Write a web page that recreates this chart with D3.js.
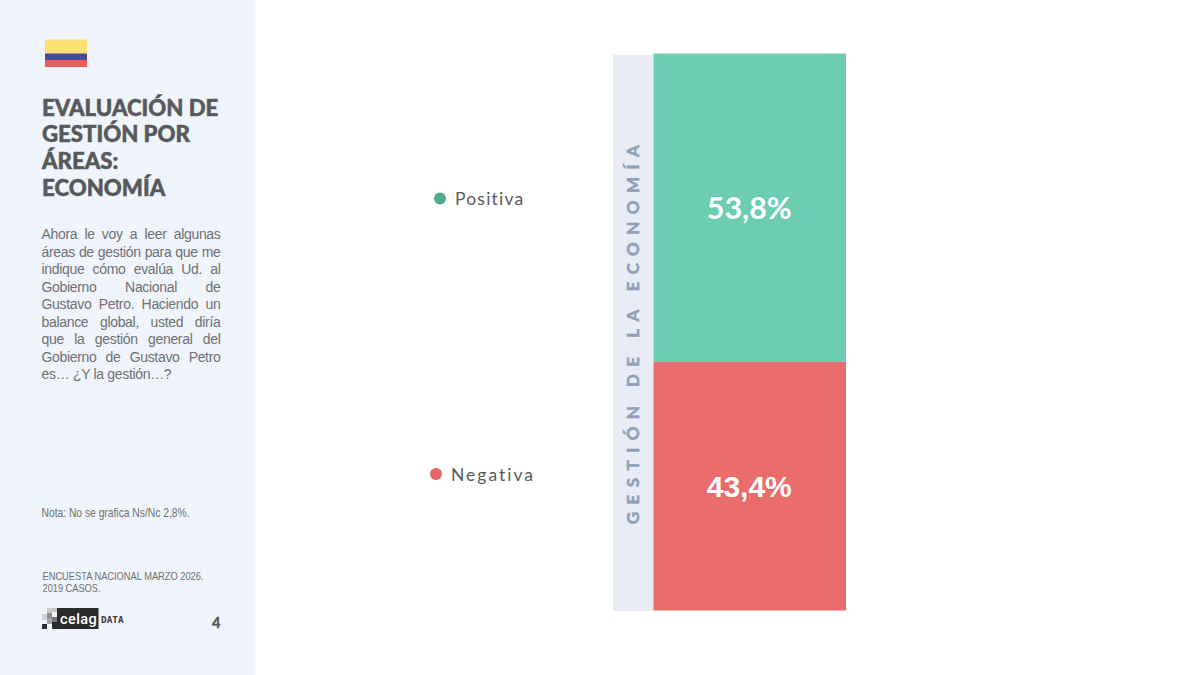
<!DOCTYPE html>
<html lang="es">
<head>
<meta charset="utf-8">
<title>Evaluación de gestión por áreas: economía</title>
<script src="https://cdnjs.cloudflare.com/ajax/libs/d3/7.8.5/d3.min.js"></script>
<style>
  html, body { margin: 0; padding: 0; background: #fff; }
  svg { display: block; }
</style>
</head>
<body>
<div id="here"></div>
<script>
// datos
var categorias = ["Positiva", "Negativa"];
var valores = [53.8, 43.4];
var etiqueta = "GESTIÓN DE LA ECONOMÍA";
var titulo = ["EVALUACIÓN DE", "GESTIÓN POR", "ÁREAS:", "ECONOMÍA"];
var pregunta = [
  "Ahora le voy a leer algunas",
  "áreas de gestión para que me",
  "indique cómo evalúa Ud. al",
  "Gobierno Nacional de",
  "Gustavo Petro. Haciendo un",
  "balance global, usted diría",
  "que la gestión general del",
  "Gobierno de Gustavo Petro",
  "es… ¿Y la gestión…?"
];
var nota = "Nota: No se grafica Ns/Nc 2,8%.";
var fuente = ["ENCUESTA NACIONAL MARZO 2026.", "2019 CASOS."];

var w = 1200, h = 675;
var sans = "'Liberation Sans', Arial, sans-serif";

var svg = d3.select("#here").append("svg")
  .attr("width", w)
  .attr("height", h);

// panel lateral
svg.append("rect").attr("width", 255.5).attr("height", h).attr("fill", "#f0f4fc");

// bandera
var flag = [["#fde074", 39.5, 14], ["#474a94", 53.5, 6.5], ["#ee5c5f", 60, 7]];
svg.selectAll(".flag").data(flag).enter().append("rect")
  .attr("class", "flag")
  .attr("x", 45).attr("width", 42)
  .attr("y", function(d) { return d[1]; })
  .attr("height", function(d) { return d[2]; })
  .attr("fill", function(d) { return d[0]; });

// titulo
svg.selectAll(".titulo").data(titulo).enter().append("text")
  .attr("class", "titulo")
  .attr("x", 42)
  .attr("y", function(d, i) { return 115.5 + i * 26.8; })
  .attr("font-family", "Lato")
  .attr("font-weight", 900)
  .attr("font-size", 22.2)
  .attr("stroke", "#58595b")
  .attr("stroke-width", 0.5)
  .attr("fill", "#58595b")
  .text(function(d) { return d; });

// pregunta, justificada linea por linea
var lineas = svg.selectAll(".pregunta").data(pregunta).enter().append("text")
  .attr("class", "pregunta")
  .attr("x", 41.5)
  .attr("y", function(d, i) { return 239 + i * 17.55; })
  .attr("font-family", sans)
  .attr("font-size", 14)
  .attr("letter-spacing", -0.32)
  .attr("fill", "#6f7073")
  .text(function(d) { return d; });

lineas.each(function(d, i) {
  if (i == pregunta.length - 1) return;
  var largo = this.getComputedTextLength();
  var huecos = d.split(" ").length - 1;
  d3.select(this).attr("word-spacing", (179 - largo) / huecos);
});

svg.append("text")
  .attr("x", 41.5).attr("y", 517)
  .attr("font-family", sans)
  .attr("font-size", 12.2)
  .attr("textLength", 148)
  .attr("lengthAdjust", "spacingAndGlyphs")
  .attr("fill", "#6f7073")
  .text(nota);

var anchoFuente = [161, 58];
svg.selectAll(".fuente").data(fuente).enter().append("text")
  .attr("class", "fuente")
  .attr("x", 42.5)
  .attr("y", function(d, i) { return 580 + i * 12; })
  .attr("font-family", sans)
  .attr("font-size", 11.8)
  .attr("textLength", function(d, i) { return anchoFuente[i]; })
  .attr("lengthAdjust", "spacingAndGlyphs")
  .attr("fill", "#6f7073")
  .text(function(d) { return d; });

// logo
svg.append("rect").attr("x", 52).attr("y", 608).attr("width", 46.5).attr("height", 21).attr("fill", "#2b2b2d");
var pixeles = [
  [47, 608, 5, 5, "#c9cacc"], [52, 608, 5, 4, "#c4c5c8"],
  [47, 613, 5, 5, "#8a8b8e"], [47, 618, 5, 6, "#a4a5a8"],
  [42, 614, 5, 6, "#d0d1d3"], [42, 624, 5, 5, "#2b2b2d"],
  [52, 612, 5, 5, "#f4f5f7"], [52, 617, 5, 5, "#77787b"]
];
svg.selectAll(".pixel").data(pixeles).enter().append("rect")
  .attr("class", "pixel")
  .attr("x", function(d) { return d[0]; })
  .attr("y", function(d) { return d[1]; })
  .attr("width", function(d) { return d[2]; })
  .attr("height", function(d) { return d[3]; })
  .attr("fill", function(d) { return d[4]; });
svg.append("text").attr("x", 60).attr("y", 623.5)
  .attr("font-family", "Roboto").attr("font-weight", 500).attr("font-size", 14.5)
  .attr("letter-spacing", 0.4).attr("fill", "#fff").text("celag");
svg.append("text").attr("x", 101).attr("y", 623)
  .attr("font-family", "'DejaVu Sans Mono', monospace").attr("font-weight", 700).attr("font-size", 9.4)
  .attr("fill", "#3c3c3e").text("DATA");

svg.append("text").attr("x", 212).attr("y", 627.5)
  .attr("font-family", "Lato").attr("font-weight", 900).attr("font-size", 14.5)
  .attr("stroke", "#58595b").attr("stroke-width", 0.3)
  .attr("fill", "#58595b").text("4");

// barra apilada
var color = d3.scaleOrdinal().domain(categorias).range(["#6ccdb1", "#ea6c6c"]);
var puntos = d3.scaleOrdinal().domain(categorias).range(["#53a98f", "#ea6468"]);

var filas = [{}];
categorias.forEach(function(c, i) { filas[0][c] = valores[i]; });
var capas = d3.stack().keys(categorias)(filas);

var y = d3.scaleLinear().domain([0, d3.sum(valores)]).range([53.5, 610.5]);
var x = d3.scaleBand().domain([etiqueta]).range([653.5, 846]);

svg.append("rect")
  .attr("x", 613).attr("y", 55).attr("width", 40.5).attr("height", 556)
  .attr("fill", "#e8ecf7");

svg.append("text")
  .attr("transform", "translate(638.5,331) rotate(-90)")
  .attr("text-anchor", "middle")
  .attr("font-family", "Lato")
  .attr("font-weight", 700)
  .attr("font-size", 17)
  .attr("letter-spacing", 7.45)
  .attr("stroke", "#8f9fb8")
  .attr("stroke-width", 0.5)
  .attr("fill", "#8f9fb8")
  .text(etiqueta);

var bar = svg.selectAll(".capa").data(capas).enter().append("g").attr("class", "capa");

bar.append("rect")
  .attr("x", x(etiqueta))
  .attr("width", x.bandwidth())
  .attr("y", function(d) { return y(d[0][0]); })
  .attr("height", function(d) { return y(d[0][1]) - y(d[0][0]); })
  .attr("fill", function(d) { return color(d.key); });

bar.append("text")
  .attr("x", x(etiqueta) + x.bandwidth() / 2 - 0.5)
  .attr("y", function(d, i) { return (y(d[0][0]) + y(d[0][1])) / 2 + (i == 0 ? 11.5 : 11); })
  .attr("text-anchor", "middle")
  .attr("font-family", function(d, i) { return i == 0 ? "Lato" : sans; })
  .attr("font-weight", 700)
  .attr("font-size", function(d, i) { return i == 0 ? 30.4 : 30; })
  .attr("fill", "#fff")
  .text(function(d, i) { return String(valores[i]).replace(".", ",") + "%"; });

// leyenda
var leyenda = [[440, 198.5, 6, 1.2], [436, 474, 7, 2]];
var ley = svg.selectAll(".ley").data(categorias).enter().append("g")
  .attr("class", "ley")
  .attr("transform", function(d, i) { return "translate(" + leyenda[i][0] + "," + leyenda[i][1] + ")"; });

ley.append("circle").attr("r", 6).attr("fill", function(d) { return puntos(d); });
ley.append("text")
  .attr("x", 15)
  .attr("y", function(d, i) { return leyenda[i][2]; })
  .attr("font-family", "Lato")
  .attr("font-size", 17.5)
  .attr("letter-spacing", function(d, i) { return leyenda[i][3]; })
  .attr("fill", "#58595b")
  .text(function(d) { return d; });
</script>
</body>
</html>
